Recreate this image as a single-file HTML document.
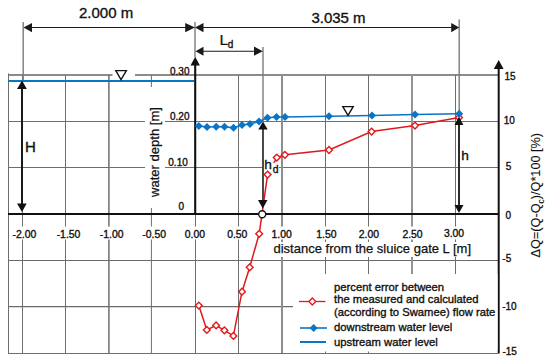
<!DOCTYPE html>
<html><head><meta charset="utf-8">
<style>
html,body{margin:0;padding:0;background:#fff;}
body{width:550px;height:361px;overflow:hidden;}
svg{display:block;font-family:"Liberation Sans",sans-serif;}
text{stroke:#111;stroke-width:0.35px;}
</style></head>
<body>
<svg width="550" height="361" viewBox="0 0 550 361">
<rect x="0" y="0" width="550" height="361" fill="#fff"/>
<!-- grid horizontal -->
<g fill="none">
  <path d="M8.5 75H112.5M135 75H498" stroke="#8c8c8c" stroke-width="2"/>
  <path d="M8.5 121.5H145M165 121.5H498" stroke="#6e6e6e" stroke-width="1"/>
  <path d="M8.5 167.5H145M165 167.5H264M279 167.5H498" stroke="#6e6e6e" stroke-width="1"/>
  <path d="M8.5 260.5H498" stroke="#6a6a6a" stroke-width="1.1"/>
  <path d="M8.5 306.6H293" stroke="#6a6a6a" stroke-width="1.1"/>
  <path d="M8.5 353.5H498" stroke="#6e6e6e" stroke-width="1"/>
</g>
<!-- grid vertical -->
<g stroke="#6e6e6e" stroke-width="1" fill="none">
  <path d="M8.5 73.5V354"/>
  <path d="M22.5 75V226.5M22.5 239.5V353"/>
  <path d="M65.5 75V226.5M65.5 239.5V353"/>
  <path d="M108.9 75V226.5M108.9 239.5V353" stroke-width="1.5"/>
  <path d="M151.4 75V87M151.4 208V226.5M151.4 239.5V353"/>
  <path d="M195.5 214V226.5M195.5 239.5V353"/>
  <path d="M238.5 75V226.5M238.5 239.5V353"/>
  <path d="M282 75V226.5M282 239.5V242M282 257V353" stroke="#8e8e8e" stroke-width="2"/>
  <path d="M325.5 75V226.5M325.5 239.5V242M325.5 257V274M325.5 351.5V353"/>
  <path d="M368.5 75V226.5M368.5 239.5V242M368.5 257V274M368.5 351.5V353"/>
  <path d="M412 75V226.5M412 239.5V242M412 257V274" stroke="#939393" stroke-width="2"/>
  <path d="M455.5 75V226.5M455.5 239.5V242M455.5 257V274"/>
</g>
<!-- extension lines -->
<g stroke="#7c7c7c" stroke-width="1.4" fill="none">
  <path d="M23.2 22V80"/>
  <path d="M195 22V57"/>
  <path d="M459.2 19.5V116"/>
  <path d="M263 47V121.5"/>
</g>
<!-- dimension lines -->
<g stroke="#1a1a1a" stroke-width="1.1" fill="none">
  <path d="M30 27.5H188"/>
  <path d="M202 27.5H452"/>
  <path d="M202 51.2H256"/>
</g>
<g fill="#1a1a1a" stroke="none">
  <path d="M23.5 27.5L32 23V32.2Z"/>
  <path d="M195 27.5L185.2 23V32.2Z"/>
  <path d="M195 27.5L203.5 23V32.2Z"/>
  <path d="M459.2 27.5L451.2 23V32.2Z"/>
  <path d="M195.5 51.2L203.5 46.7V55.8Z"/>
  <path d="M262.8 51.2L254 46.5V55.8Z"/>
</g>
<!-- upstream water -->
<path d="M8.5 81H194" stroke="#0876c2" stroke-width="2" fill="none"/>
<!-- axes -->
<path d="M8 213.9H499" stroke="#111" stroke-width="2" fill="none"/>
<path d="M498.7 66V353.5" stroke="#111" stroke-width="2" fill="none"/>
<path d="M498.7 60L493.8 69H503.6Z" fill="#111"/>
<path d="M195.2 62V214" stroke="#111" stroke-width="2.1" fill="none"/>
<path d="M195.2 56.8L190.5 65.5H199.9Z" fill="#111"/>
<path d="M263 128V201" stroke="#4a4a4a" stroke-width="2" fill="none"/>
<!-- red series -->
<polyline fill="none" stroke="#e01a1c" stroke-width="1.5" points="198.8,305.6 206.8,329.9 216.1,325.4 224.4,330.3 233.4,335.9 242,291.7 249.7,267.3 259.2,233.8 267.6,174.6 276.8,157.6 284.9,154.8 329,150 371.6,131.6 415,125.6 459,117.5"/>
<rect x="264" y="162.8" width="15" height="10.5" fill="#fff"/>
<g fill="#fff" stroke="#e01a1c" stroke-width="1.4">
  <path d="M198.8 302.2L202.2 305.6L198.8 309L195.4 305.6Z"/>
  <path d="M206.8 326.5L210.2 329.9L206.8 333.3L203.4 329.9Z"/>
  <path d="M216.1 322L219.5 325.4L216.1 328.8L212.7 325.4Z"/>
  <path d="M224.4 326.9L227.8 330.3L224.4 333.7L221 330.3Z"/>
  <path d="M233.4 332.5L236.8 335.9L233.4 339.3L230 335.9Z"/>
  <path d="M242 288.3L245.4 291.7L242 295.1L238.6 291.7Z"/>
  <path d="M249.7 263.9L253.1 267.3L249.7 270.7L246.3 267.3Z"/>
  <path d="M259.2 230.4L262.6 233.8L259.2 237.2L255.8 233.8Z"/>
  <path d="M267.6 171.2L271 174.6L267.6 178L264.2 174.6Z"/>
  <path d="M276.8 154.2L280.2 157.6L276.8 161L273.4 157.6Z"/>
  <path d="M284.9 151.4L288.3 154.8L284.9 158.2L281.5 154.8Z"/>
  <path d="M329 146.6L332.4 150L329 153.4L325.6 150Z"/>
  <path d="M371.6 128.2L375 131.6L371.6 135L368.2 131.6Z"/>
  <path d="M415 122.2L418.4 125.6L415 129L411.6 125.6Z"/>
  <path d="M459 114.1L462.4 117.5L459 120.9L455.6 117.5Z"/>
</g>
<!-- blue series -->
<polyline fill="none" stroke="#0a74c6" stroke-width="1.5" points="198.8,126 207,127 216.2,126.8 224.5,126.8 233.5,127.8 242,125 250,124 259,121.5 267.5,117.8 276.5,117 285,117 329,116.2 372,115.5 415,114.6 459.2,113.7"/>
<g fill="#0a74c6" stroke="none">
  <path id="bd" d="M198.8 122L202.8 126L198.8 130L194.8 126Z"/>
  <path d="M207 123L211 127L207 131L203 127Z"/>
  <path d="M216.2 122.8L220.2 126.8L216.2 130.8L212.2 126.8Z"/>
  <path d="M224.5 122.8L228.5 126.8L224.5 130.8L220.5 126.8Z"/>
  <path d="M233.5 123.8L237.5 127.8L233.5 131.8L229.5 127.8Z"/>
  <path d="M242 121L246 125L242 129L238 125Z"/>
  <path d="M250 120L254 124L250 128L246 124Z"/>
  <path d="M259 117.5L263 121.5L259 125.5L255 121.5Z"/>
  <path d="M267.5 113.8L271.5 117.8L267.5 121.8L263.5 117.8Z"/>
  <path d="M276.5 113L280.5 117L276.5 121L272.5 117Z"/>
  <path d="M285 113L289 117L285 121L281 117Z"/>
  <path d="M329 112.2L333 116.2L329 120.2L325 116.2Z"/>
  <path d="M372 111.5L376 115.5L372 119.5L368 115.5Z"/>
  <path d="M415 110.6L419 114.6L415 118.6L411 114.6Z"/>
  <path d="M459.2 109.7L463.2 113.7L459.2 117.7L455.2 113.7Z"/>
</g>
<!-- vertical arrows -->
<g stroke="#1a1a1a" stroke-width="2" fill="none">
  <path d="M22 88V204"/>
  <path d="M459 124V206" stroke="#2e2a28"/>
</g>
<g fill="#111">
  <path d="M22 80.5L17 89H26.8Z"/>
  <path d="M22 212L17 203.5H26.6Z"/>
  <path d="M263 121.5L258.3 129.5H267.7Z"/>
  <path d="M262.8 208.5L258 200H267.5Z"/>
  <path d="M459 116.5L454.5 125H463.3Z"/>
  <path d="M459 213L454.5 205H463.5Z"/>
</g>
<circle cx="262.2" cy="214.3" r="3.5" fill="#fff" stroke="#111" stroke-width="1.4"/>
<!-- water level triangles -->
<g fill="#fff" stroke="#111" stroke-width="1.35">
  <path d="M115.8 70.6H126.4L121 79.6Z"/>
  <path d="M342.8 106.6H353.2L348 115.4Z"/>
</g>
<!-- texts -->
<g fill="#111" font-size="15" style="stroke-width:0.12px">
  <text x="79" y="18.2">2.000 m</text>
  <text x="311.4" y="22.8">3.035 m</text>
  <text x="25" y="151.8">H</text>
</g>
<text x="219.4" y="44.6" fill="#111" font-size="15.5" style="stroke-width:0.2px">L</text>
<g fill="#111" font-size="13.7" style="stroke-width:0.28px">
  <text x="264.2" y="168.5">h</text>
  <text x="461.2" y="160">h</text>
</g>
<g fill="#111" font-size="11">
  <text x="227.8" y="48.3" font-size="10">d</text>
  <text x="272.8" y="173" font-size="10.4">d</text>
</g>
<!-- left labels -->
<g fill="#111" font-size="10">
  <text x="170" y="74.8">0.30</text>
  <text x="170" y="119.6">0.20</text>
  <text x="168.3" y="165.5">0.10</text>
  <text x="178.5" y="209.8">0</text>
</g>
<rect x="145" y="87" width="20" height="121" fill="#fff"/>
<text transform="translate(159 197) rotate(-90)" font-size="13" fill="#111" style="stroke-width:0.25px" textLength="90" lengthAdjust="spacingAndGlyphs">water depth [m]</text>
<!-- x labels -->
<g fill="#111" font-size="10.4" text-anchor="middle">
  <text x="24.4" y="237.7">-2.00</text>
  <text x="68.5" y="237.7">-1.50</text>
  <text x="111.7" y="237.7">-1.00</text>
  <text x="154.2" y="237.7">-0.50</text>
  <text x="194.9" y="237.7">0.00</text>
  <text x="237.3" y="237.7">0.50</text>
  <text x="281.6" y="237.7">1.00</text>
  <text x="326.4" y="237.7">1.50</text>
  <text x="368.9" y="237.7">2.00</text>
  <text x="412.5" y="237.7">2.50</text>
  <text x="454" y="237.2">3.00</text>
</g>
<text x="273.5" y="253" font-size="13" fill="#111" style="stroke-width:0.25px">distance from the sluice gate L [m]</text>
<!-- right labels -->
<g fill="#111" font-size="10">
  <text x="504.5" y="79.8">15</text>
  <text x="503.8" y="123.6">10</text>
  <text x="505.8" y="170.1">5</text>
  <text x="505.6" y="218.5">0</text>
  <text x="502.3" y="262.3">-5</text>
  <text x="502.2" y="309.8">-10</text>
  <text x="502.4" y="355.2">-15</text>
</g>
<text transform="translate(539.8 257.4) rotate(-90)" font-size="12.7" fill="#111" style="stroke-width:0.12px">ΔQ=(Q-Q<tspan font-size="8.5" dy="4.1">c</tspan><tspan dy="-4.1">)/Q*100 [%)</tspan></text>
<!-- legend -->
<rect x="293" y="274" width="204.5" height="76" fill="#fff"/>
<path d="M299 301.5H325.5" stroke="#e6161a" stroke-width="1.3"/>
<path d="M312.3 298L315.8 301.5L312.3 305L308.8 301.5Z" fill="#fff" stroke="#e6161a" stroke-width="1.3"/>
<path d="M300 328H327" stroke="#0a74c6" stroke-width="1.6"/>
<path d="M313.6 324L317.6 328L313.6 332L309.6 328Z" fill="#0a74c6"/>
<path d="M300 342H326" stroke="#0876c2" stroke-width="2"/>
<g fill="#111" font-size="11.25">
  <text x="334" y="291">percent error between</text>
  <text x="334" y="303.3">the measured and calculated</text>
  <text x="334" y="315.6">(according to Swamee) flow rate</text>
  <text x="334" y="331.3">downstream water level</text>
  <text x="334" y="346">upstream water level</text>
</g>
</svg>
</body></html>
